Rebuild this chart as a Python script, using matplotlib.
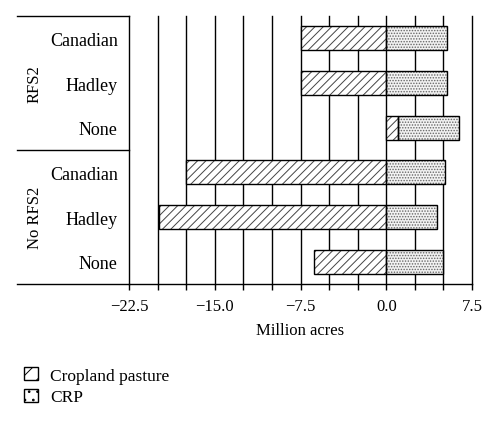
import numpy as np
import matplotlib.pyplot as plt
from matplotlib.patches import Patch
plt.switch_backend('Agg')

plt.rcParams['font.family'] = ['Liberation Serif', 'DejaVu Serif']
plt.rcParams['font.size'] = 12
plt.rcParams['hatch.linewidth'] = 0.7

# rows from top to bottom
groups = ['RFS2', 'No RFS2']
scenarios = ['Canadian', 'Hadley', 'None', 'Canadian', 'Hadley', 'None']
cropland = [-7.5, -7.5, 1.0, -17.5, -19.9, -6.3]
crp = [5.35, 5.35, 5.35, 5.1, 4.45, 4.95]

fig = plt.figure(figsize=(5.0, 4.27), dpi=100)
ax = fig.add_axes([0.258, 0.3326, 0.686, 0.6274])

y = np.arange(len(scenarios))
h = 0.54
crop = np.array(cropland)
crp_left = np.maximum(crop, 0)

# hatched fills, then black outlines on top
ax.barh(y, crop, height=h, color='white', edgecolor='#444444', hatch='////', linewidth=0, zorder=2)
ax.barh(y, crp, left=crp_left, height=h, color='#f2f2f2', edgecolor='#666666', hatch='......', linewidth=0, zorder=2)
ax.barh(y, crop, height=h, fill=False, edgecolor='black', linewidth=1.0, zorder=3)
ax.barh(y, crp, left=crp_left, height=h, fill=False, edgecolor='black', linewidth=1.0, zorder=3)

ax.set_xlim(-22.5, 7.5)
ax.set_ylim(len(scenarios) - 0.5, -0.5)
ax.set_xticks(np.arange(-22.5, 7.6, 7.5))
ax.set_xticklabels(['\u221222.5', '\u221215.0', '\u22127.5', '0.0', '7.5'])
ax.set_xticks(np.arange(-22.5, 7.6, 2.5), minor=True)
ax.tick_params(axis='x', which='both', direction='out', length=4, width=1, pad=6)
for v in np.arange(-20, 7.6, 2.5):
    ax.axvline(v, color='black', linewidth=1.0, zorder=1, clip_on=False)

ax.set_yticks(y)
ax.set_yticklabels(scenarios, fontsize=13)
ax.tick_params(axis='y', length=0, pad=8)
ax.set_xlabel('Million acres', labelpad=6)

for s in ['top', 'right']:
    ax.spines[s].set_visible(False)
ax.spines['left'].set_linewidth(1.0)
ax.spines['bottom'].set_linewidth(1.0)

# group label frame
ext = -0.3265
ax.plot([ext, 0], [1, 1], transform=ax.transAxes, color='black', lw=1.0, clip_on=False)
ax.plot([ext, 0], [0.5, 0.5], transform=ax.transAxes, color='black', lw=1.0, clip_on=False)
ax.plot([ext, 0], [0, 0], transform=ax.transAxes, color='black', lw=1.0, clip_on=False)
ax.text(-0.275, 0.75, groups[0], transform=ax.transAxes, rotation=90, ha='center', va='center')
ax.text(-0.275, 0.25, groups[1], transform=ax.transAxes, rotation=90, ha='center', va='center')

handles = [Patch(facecolor='white', edgecolor='black', hatch='//'),
           Patch(facecolor='white', edgecolor='black', hatch='..')]
fig.legend(handles, ['Cropland pasture', 'CRP'], loc='upper left',
           bbox_to_anchor=(0.017, 0.175), frameon=False, handlelength=0.8,
           handleheight=0.8, handletextpad=0.7, labelspacing=0.3, fontsize=12.5)

fig.savefig('out.png', dpi=100)
